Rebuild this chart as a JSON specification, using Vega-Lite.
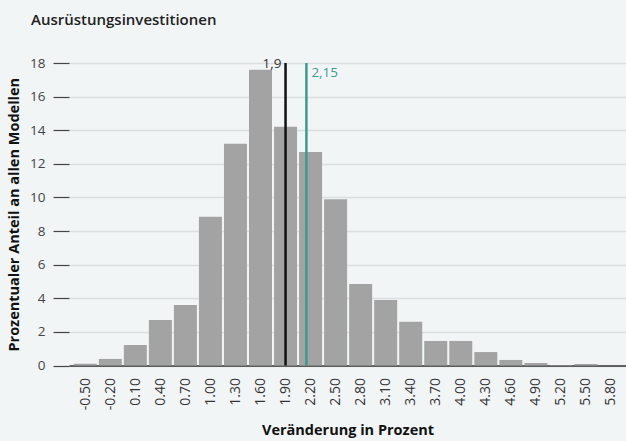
{
  "$schema": "https://vega.github.io/schema/vega-lite/v6.json",
  "autosize": {"type": "none"},
  "width": 557,
  "height": 302.5,
  "padding": {"left": 69, "top": 63, "right": 0, "bottom": 75.5},
  "background": "#f2f5f6",
  "title": {
    "text": "Ausrüstungsinvestitionen",
    "anchor": "start",
    "frame": "group",
    "dx": -38,
    "offset": 16,
    "baseline": "alphabetic",
    "font": "Open Sans",
    "fontSize": 15,
    "fontWeight": 600,
    "color": "#222222"
  },
  "config": {"view": {"stroke": null}, "font": "Open Sans"},
  "layer": [
    {
      "data": {
        "values": [
          {"wert": -0.5, "anteil": 0.1},
          {"wert": -0.2, "anteil": 0.39},
          {"wert": 0.1, "anteil": 1.22},
          {"wert": 0.4, "anteil": 2.71},
          {"wert": 0.7, "anteil": 3.6},
          {"wert": 1.0, "anteil": 8.85},
          {"wert": 1.3, "anteil": 13.2},
          {"wert": 1.6, "anteil": 17.6},
          {"wert": 1.9, "anteil": 14.2},
          {"wert": 2.2, "anteil": 12.7},
          {"wert": 2.5, "anteil": 9.9},
          {"wert": 2.8, "anteil": 4.85},
          {"wert": 3.1, "anteil": 3.9},
          {"wert": 3.4, "anteil": 2.6},
          {"wert": 3.7, "anteil": 1.46},
          {"wert": 4.0, "anteil": 1.46},
          {"wert": 4.3, "anteil": 0.8},
          {"wert": 4.6, "anteil": 0.33},
          {"wert": 4.9, "anteil": 0.15},
          {"wert": 5.2, "anteil": 0.03},
          {"wert": 5.5, "anteil": 0.09},
          {"wert": 5.8, "anteil": 0}
        ]
      },
      "mark": {"type": "bar", "width": 23, "color": "#a3a3a3"},
      "encoding": {
        "x": {
          "field": "wert",
          "type": "quantitative",
          "scale": {"domain": [-0.635, 5.92], "nice": false, "zero": false},
          "axis": {
            "title": "Veränderung in Prozent",
            "values": [-0.5, -0.2, 0.1, 0.4, 0.7, 1.0, 1.3, 1.6, 1.9, 2.2, 2.5, 2.8, 3.1, 3.4, 3.7, 4.0, 4.3, 4.6, 4.9, 5.2, 5.5, 5.8],
            "tickCount": 40,
            "labelExpr": "replace(format(datum.value, '.2f'), '\u2212', '-')",
            "grid": false,
            "ticks": false,
            "tickSize": 0,
            "domain": true,
            "domainColor": "#333333",
            "domainWidth": 1.5,
            "labelAngle": -90,
            "labelAlign": "right",
            "labelBaseline": "middle",
            "labelPadding": 12,
            "labelFontSize": 14,
            "labelColor": "#333333",
            "labelFont": "Open Sans",
            "labelFlush": false,
            "labelOverlap": false,
            "titleFont": "Open Sans",
            "titleFontSize": 14.5,
            "titleFontWeight": "bold",
            "titleColor": "#111111",
            "titlePadding": 14
          }
        },
        "y": {
          "field": "anteil",
          "type": "quantitative",
          "scale": {"domain": [0, 18], "nice": false},
          "axis": {
            "title": "Prozentualer Anteil an allen Modellen",
            "values": [0, 2, 4, 6, 8, 10, 12, 14, 16, 18],
            "tickCount": 20,
            "labelOverlap": false,
            "grid": true,
            "gridColor": "#dcdfe0",
            "gridWidth": 1.5,
            "domain": false,
            "ticks": true,
            "tickSize": 16,
            "tickColor": "#444444",
            "tickWidth": 1.2,
            "labelPadding": 8,
            "labelFontSize": 13.5,
            "labelColor": "#444444",
            "labelFont": "Open Sans",
            "titleFont": "Open Sans",
            "titleFontSize": 14.5,
            "titleFontWeight": "bold",
            "titleColor": "#111111",
            "titlePadding": 8
          }
        }
      }
    },
    {
      "data": {"values": [{"wert": 1.9}]},
      "mark": {"type": "rule", "color": "#111111", "strokeWidth": 2.5},
      "encoding": {"x": {"field": "wert", "type": "quantitative"}}
    },
    {
      "data": {"values": [{"wert": 2.15}]},
      "mark": {"type": "rule", "color": "#3d9a8f", "strokeWidth": 2.5},
      "encoding": {"x": {"field": "wert", "type": "quantitative"}}
    },
    {
      "data": {"values": [{"wert": 1.9, "label": "1,9"}]},
      "mark": {"type": "text", "align": "right", "baseline": "alphabetic", "dx": -4, "dy": 5, "fontSize": 13.5, "color": "#333333", "font": "Open Sans"},
      "encoding": {
        "x": {"field": "wert", "type": "quantitative"},
        "y": {"datum": 18},
        "text": {"field": "label"}
      }
    },
    {
      "data": {"values": [{"wert": 2.15, "label": "2,15"}]},
      "mark": {"type": "text", "align": "left", "baseline": "alphabetic", "dx": 5, "dy": 14, "fontSize": 13.5, "color": "#3d9a8f", "font": "Open Sans"},
      "encoding": {
        "x": {"field": "wert", "type": "quantitative"},
        "y": {"datum": 18},
        "text": {"field": "label"}
      }
    }
  ]
}
